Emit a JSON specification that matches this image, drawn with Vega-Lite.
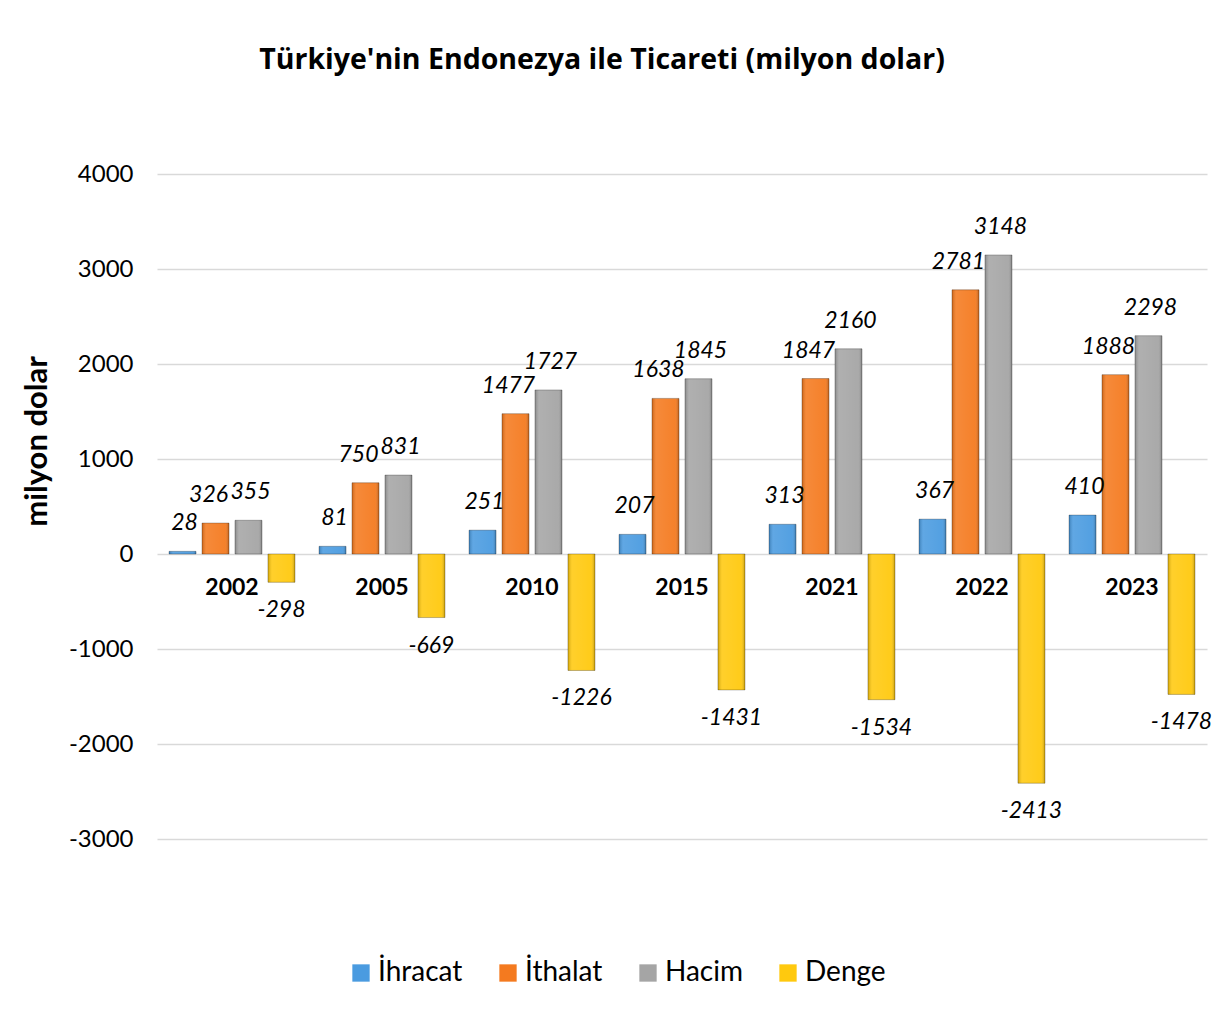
{
  "$schema": "https://vega.github.io/schema/vega-lite/v6.json",
  "autosize": {"type": "none"},
  "width": 1050,
  "height": 665,
  "padding": {"left": 157, "top": 174, "right": 12, "bottom": 194},
  "background": "white",
  "title": {
    "text": "Türkiye'nin Endonezya ile Ticareti (milyon dolar)",
    "font": "Open Sans",
    "fontSize": 28.5,
    "fontWeight": "bold",
    "color": "#000000",
    "anchor": "middle",
    "dx": -80,
    "offset": 88
  },
  "config": {
    "view": {"stroke": null},
    "font": "Lato"
  },
  "datasets": {
    "trade": [
      {"year": "2002", "series": "İhracat", "value": 28},
      {"year": "2002", "series": "İthalat", "value": 326},
      {"year": "2002", "series": "Hacim", "value": 355},
      {"year": "2002", "series": "Denge", "value": -298},
      {"year": "2005", "series": "İhracat", "value": 81},
      {"year": "2005", "series": "İthalat", "value": 750},
      {"year": "2005", "series": "Hacim", "value": 831},
      {"year": "2005", "series": "Denge", "value": -669},
      {"year": "2010", "series": "İhracat", "value": 251},
      {"year": "2010", "series": "İthalat", "value": 1477},
      {"year": "2010", "series": "Hacim", "value": 1727},
      {"year": "2010", "series": "Denge", "value": -1226},
      {"year": "2015", "series": "İhracat", "value": 207},
      {"year": "2015", "series": "İthalat", "value": 1638},
      {"year": "2015", "series": "Hacim", "value": 1845},
      {"year": "2015", "series": "Denge", "value": -1431},
      {"year": "2021", "series": "İhracat", "value": 313},
      {"year": "2021", "series": "İthalat", "value": 1847},
      {"year": "2021", "series": "Hacim", "value": 2160},
      {"year": "2021", "series": "Denge", "value": -1534},
      {"year": "2022", "series": "İhracat", "value": 367},
      {"year": "2022", "series": "İthalat", "value": 2781},
      {"year": "2022", "series": "Hacim", "value": 3148},
      {"year": "2022", "series": "Denge", "value": -2413},
      {"year": "2023", "series": "İhracat", "value": 410},
      {"year": "2023", "series": "İthalat", "value": 1888},
      {"year": "2023", "series": "Hacim", "value": 2298},
      {"year": "2023", "series": "Denge", "value": -1478}
    ]
  },
  "data": {"name": "trade"},
  "encoding": {
    "x": {
      "field": "year",
      "type": "nominal",
      "sort": ["2002", "2005", "2010", "2015", "2021", "2022", "2023"],
      "scale": {"paddingInner": 0.16, "paddingOuter": 0.08},
      "axis": null
    },
    "y": {
      "field": "value",
      "type": "quantitative",
      "scale": {"domain": [-3000, 4000], "nice": false, "zero": false},
      "axis": {
        "values": [-3000, -2000, -1000, 0, 1000, 2000, 3000, 4000],
        "labelExpr": "toString(datum.value)",
        "domain": false,
        "ticks": false,
        "grid": true,
        "gridColor": "#D9D9D9",
        "gridWidth": 1.5,
        "labelFont": "Lato",
        "labelFontSize": 24,
        "labelColor": "#000000",
        "labelPadding": 24,
        "title": "milyon dolar",
        "titleFont": "Lato",
        "titleFontSize": 31,
        "titleFontWeight": "bold",
        "titleColor": "#000000",
        "titleAngle": -90,
        "titleAlign": "center",
        "titleBaseline": "middle",
        "titleX": -120,
        "titleY": 267
      }
    }
  },
  "layer": [
    {
      "mark": {"type": "bar"},
      "encoding": {
        "xOffset": {
          "field": "series",
          "type": "nominal",
          "sort": ["İhracat", "İthalat", "Hacim", "Denge"],
          "scale": {"paddingInner": 0.18}
        },
        "color": {
          "field": "series",
          "type": "nominal",
          "sort": ["İhracat", "İthalat", "Hacim", "Denge"],
          "scale": {
            "domain": ["İhracat", "İthalat", "Hacim", "Denge"],
            "range": ["#4A9BE0", "#F47A1F", "#A5A5A5", "#FFC90E"]
          },
          "legend": {
            "title": null,
            "orient": "none",
            "direction": "horizontal",
            "legendX": 190,
            "legendY": 785,
            "symbolType": "square",
            "symbolSize": 300,
            "symbolStrokeWidth": 0,
            "symbolOpacity": 1,
            "labelFont": "Lato",
            "labelFontSize": 28,
            "labelColor": "#000000",
            "labelOffset": 3,
            "columnPadding": 31
          }
        }
      }
    },
    {
      "mark": {
        "type": "bar",
        "stroke": "rgba(0,0,0,0.25)",
        "strokeWidth": 1,
        "fill": {
          "gradient": "linear",
          "x1": 0, "x2": 1, "y1": 0, "y2": 0,
          "stops": [
            {"offset": 0, "color": "rgba(0,0,0,0.18)"},
            {"offset": 0.15, "color": "rgba(255,255,255,0.12)"},
            {"offset": 0.85, "color": "rgba(255,255,255,0.05)"},
            {"offset": 1, "color": "rgba(0,0,0,0.25)"}
          ]
        }
      },
      "encoding": {
        "xOffset": {
          "field": "series",
          "type": "nominal",
          "sort": ["İhracat", "İthalat", "Hacim", "Denge"],
          "scale": {"paddingInner": 0.18}
        }
      }
    },
    {
      "transform": [{"filter": "datum.value >= 0 && datum.series !== 'İthalat'"}],
      "mark": {
        "type": "text",
        "font": "Lato",
        "fontSize": 23,
        "fontStyle": "italic",
        "color": "#000000",
        "baseline": "middle",
        "dx": 2,
        "dy": -28
      },
      "encoding": {
        "xOffset": {
          "field": "series",
          "type": "nominal",
          "sort": ["İhracat", "İthalat", "Hacim", "Denge"],
          "scale": {"paddingInner": 0.18}
        },
        "text": {"field": "value", "type": "nominal"}
      }
    },
    {
      "transform": [{"filter": "datum.series === 'İthalat'"}],
      "mark": {
        "type": "text",
        "font": "Lato",
        "fontSize": 23,
        "fontStyle": "italic",
        "color": "#000000",
        "baseline": "middle",
        "dx": -7,
        "dy": -28
      },
      "encoding": {
        "xOffset": {
          "field": "series",
          "type": "nominal",
          "sort": ["İhracat", "İthalat", "Hacim", "Denge"],
          "scale": {"paddingInner": 0.18}
        },
        "text": {"field": "value", "type": "nominal"}
      }
    },
    {
      "transform": [{"filter": "datum.value < 0"}],
      "mark": {
        "type": "text",
        "font": "Lato",
        "fontSize": 23,
        "fontStyle": "italic",
        "color": "#000000",
        "baseline": "middle",
        "dy": 28
      },
      "encoding": {
        "xOffset": {
          "field": "series",
          "type": "nominal",
          "sort": ["İhracat", "İthalat", "Hacim", "Denge"],
          "scale": {"paddingInner": 0.18}
        },
        "text": {"field": "value", "type": "nominal"}
      }
    },
    {
      "transform": [{"filter": "datum.series === 'Denge'"}],
      "mark": {
        "type": "text",
        "font": "Lato",
        "fontSize": 23,
        "fontWeight": "bold",
        "color": "#000000",
        "baseline": "middle",
        "dy": 34
      },
      "encoding": {
        "y": {"datum": 0, "type": "quantitative"},
        "text": {"field": "year", "type": "nominal"}
      }
    }
  ]
}
